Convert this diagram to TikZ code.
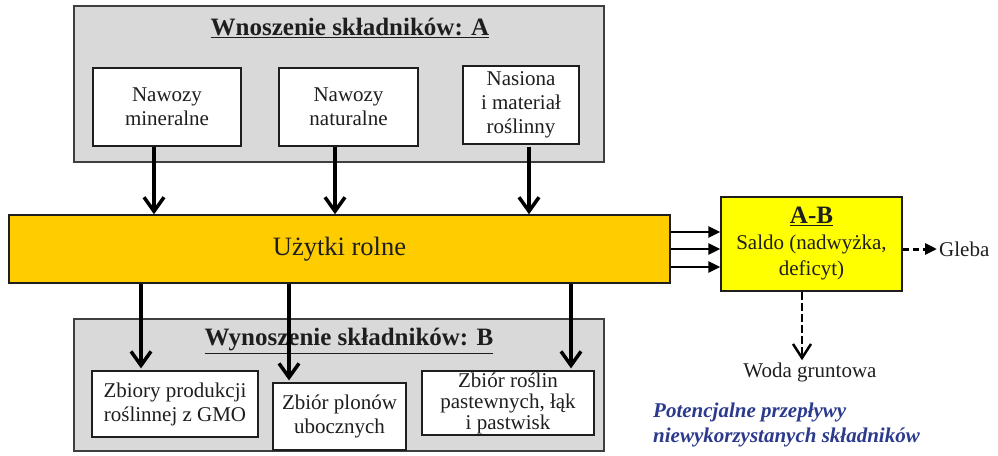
\documentclass[tikz,border=0pt]{standalone}
\usepackage{fontspec}
\setmainfont{Liberation Serif}
\usetikzlibrary{arrows.meta,calc}
\definecolor{panelgray}{HTML}{D9D9D9}
\definecolor{edgegray}{HTML}{3F3F3F}
\definecolor{ink}{HTML}{1E1E1E}
\definecolor{fieldorange}{HTML}{FFCC00}
\definecolor{saldoyellow}{HTML}{FFFF00}
\definecolor{noteblue}{HTML}{2B3A8C}

\begin{document}
\begin{tikzpicture}[x=1pt,y=-1pt]
	\tikzstyle{panel} = [draw=edgegray, fill=panelgray, line width=1.8pt, inner sep=0pt]
	\tikzstyle{item} = [draw=ink, fill=white, line width=1.2pt, align=center, text=ink, inner sep=0pt, font=\fontsize{21}{24}\selectfont]
	\tikzstyle{heading} = [text=ink, font=\fontsize{25}{30}\selectfont\bfseries]
	\tikzstyle{plain} = [text=ink, font=\fontsize{21}{24}\selectfont]
	\tikzstyle{flow} = [line width=3.5pt, -{Straight Barb[length=14pt,width=20pt]}]
	\tikzstyle{feed} = [line width=2.5pt, -{Triangle[length=12pt,width=11pt]}]
	\useasboundingbox (0,0) rectangle (998,455);
	\coordinate (A1) at (154,0);
	\coordinate (A2) at (335,0);
	\coordinate (A3) at (529,0);
	\coordinate (B1) at (141,0);
	\coordinate (B2) at (289,0);
	\coordinate (B3) at (571,0);
	\coordinate (W) at (802,0);
	\node[panel, minimum width=530pt, minimum height=156pt] (inA) at (339,84) {};
	\node[heading] (inAtitle) at (350,28) {\underline{Wnoszenie składników: A}};
	\node[item, minimum width=148pt, minimum height=78pt] (n1) at (167,107) {Nawozy\\mineralne};
	\node[item, minimum width=139pt, minimum height=78pt] (n2) at (348.5,107) {Nawozy\\naturalne};
	\node[item, minimum width=116pt, minimum height=78pt] (n3) at (521,105) {Nasiona\\i materiał\\roślinny};
	\node[draw=ink, fill=fieldorange, line width=1.5pt, minimum width=661pt, minimum height=68pt, text=ink, font=\fontsize{26.5}{30}\selectfont] (ur) at (339.5,249) {Użytki rolne};
	\node[panel, minimum width=530pt, minimum height=132pt] (outB) at (339,385) {};
	\node[heading] (outBtitle) at (349,341) {\underline{Wynoszenie składników: B}};
	\node[item, minimum width=166pt, minimum height=66pt] (m1) at (175,404) {Zbiory produkcji\\roślinnej z GMO};
	\node[item, minimum width=133pt, minimum height=67pt] (m2) at (339.5,416.5) {Zbiór plonów\\ubocznych};
	\node[item, minimum width=172pt, minimum height=64pt, font=\fontsize{21}{21}\selectfont] (m3) at (508,403) {Zbiór roślin\\pastewnych, łąk\\i pastwisk};
	\node[draw=ink, fill=saldoyellow, line width=1.5pt, minimum width=181pt, minimum height=94pt, align=center, text=ink, font=\fontsize{21}{26}\selectfont] (ab) at (811.5,244) {{\fontsize{25}{26}\selectfont\bfseries\underline{A-B}}\\Saldo (nadwyżka,\\deficyt)};
	\node[plain, anchor=west, inner sep=2pt] (gl) at (937,249) {Gleba};
	\node[plain, inner sep=2pt] (wg) at (810,372) {Woda gruntowa};
	\node[text=noteblue, anchor=west, align=left, inner sep=0pt, font=\fontsize{21}{25}\selectfont\bfseries\itshape] (note) at (653,425) {Potencjalne przepływy\\niewykorzystanych składników};
	\foreach \c/\n in {A1/n1, A2/n2, A3/n3}
		\draw[flow] (n1.south -| \c) -- (ur.north -| \c);
	\foreach \c/\n in {B1/m1, B2/m2, B3/m3}
		\draw[flow] (ur.south -| \c) -- ([yshift=2pt]\n.north -| \c);
	\foreach \dy in {17,0,-18} {
		\coordinate (s) at ([yshift=\dy pt]ur.east);
		\draw[feed] (s) -- (s -| ab.west);
	}
	\draw[line width=3pt, dash pattern=on 6pt off 4pt, -{Triangle[length=12pt,width=11pt]}] (ab.east |- gl) -- (gl.west);
	\draw[line width=2.5pt, dash pattern=on 8pt off 3pt, -{Straight Barb[length=14pt,width=18pt]}] (ab.south -| W) -- (wg.north -| W);
\end{tikzpicture}
\end{document}
